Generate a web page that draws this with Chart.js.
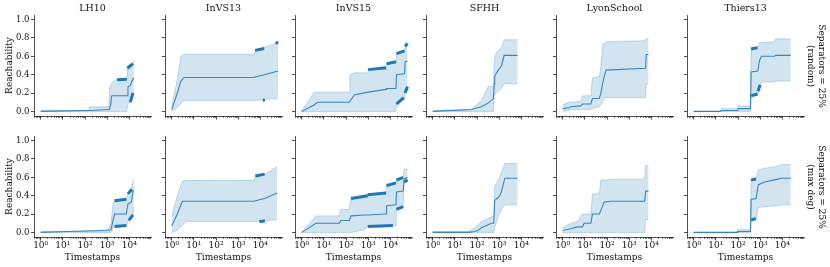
<!DOCTYPE html>
<html>
<head>
<meta charset="utf-8">
<script src="https://cdn.jsdelivr.net/npm/chart.js@4.4.1/dist/chart.umd.min.js"></script>
<style>
    html, body { margin: 0; padding: 0; background: #fff; overflow: hidden; }
    #page { position: relative; width: 830px; height: 267px; overflow: hidden; }
    .panel { position: absolute; }
    .rowlabel {
        position: absolute; width: 120px; white-space: nowrap;
        font-family: 'DejaVu Serif', serif; font-size: 9px; line-height: 11px;
        text-align: center; color: #111;
        transform: translate(-50%, -50%) rotate(90deg);
    }
</style>
</head>
<body>
<div id="page"></div>
<script>
// ============================================
// DATA
// ============================================
const TITLES = ['LH10', 'InVS13', 'InVS15', 'SFHH', 'LyonSchool', 'Thiers13'];
const ROW_LABELS = [['Separators = 25%', '(random)'], ['Separators = 25%', '(max deg)']];
const Y_TICKS = [0, 0.2, 0.4, 0.6, 0.8, 1.0];
const X_DECADES = [1, 10, 100, 1000, 10000];
const SUPERSCRIPT = ['\u2070', '\u00b9', '\u00b2', '\u00b3', '\u2074', '\u2075'];

// --- Separators = 25% (random) ---
const lh10RndT   = [1, 150, 158, 1200, 1260, 1450, 1600, 2600, 2800, 7800, 8200, 8700, 11000, 13500, 14600, 16000];
const lh10RndLo  = [0, 0, 0, 0, 0, 0, 0, 0, 0, 0, 0.06, 0.08, 0.1, 0.17, 0.19, 0.2];
const lh10RndMed = [0, 0.01, 0.01, 0.02, 0.02, 0.08, 0.17, 0.17, 0.17, 0.17, 0.17, 0.27, 0.28, 0.34, 0.36, 0.36];
const lh10RndHi  = [0.01, 0.01, 0.05, 0.05, 0.24, 0.29, 0.31, 0.35, 0.35, 0.35, 0.46, 0.48, 0.5, 0.51, 0.55, 0.55];
const lh10RndDark = [[2800, 7800, 0.345, 0.35], [8200, 14600, 0.47, 0.52], [11000, 14600, 0.1, 0.2]];

const invs13RndT   = [1, 1.8, 2.6, 3.6, 5500, 5800, 15700, 63000];
const invs13RndLo  = [0, 0.04, 0.09, 0.12, 0.12, 0.12, 0.13, 0.14];
const invs13RndMed = [0.02, 0.2, 0.33, 0.37, 0.37, 0.375, 0.4, 0.44];
const invs13RndHi  = [0.05, 0.35, 0.6, 0.62, 0.62, 0.66, 0.7, 0.75];
const invs13RndDark = [[5800, 15000, 0.665, 0.685], [13000, 16000, 0.12, 0.125], [50000, 63000, 0.74, 0.755]];

const invs15RndT   = [1, 3.6, 5.2, 140, 150, 240, 960, 1000, 6400, 6800, 18000, 19000, 44000, 46000, 60000];
const invs15RndLo  = [0, 0, 0, 0, 0, 0, 0, 0, 0, 0, 0, 0.1, 0.13, 0.22, 0.27];
const invs15RndMed = [0, 0.07, 0.1, 0.1, 0.1, 0.18, 0.21, 0.21, 0.24, 0.25, 0.25, 0.4, 0.41, 0.54, 0.55];
const invs15RndHi  = [0, 0.21, 0.21, 0.21, 0.4, 0.42, 0.42, 0.46, 0.46, 0.53, 0.53, 0.64, 0.66, 0.72, 0.74];
const invs15RndDark = [[1000, 6400, 0.455, 0.475], [6800, 18000, 0.52, 0.54], [19000, 44000, 0.63, 0.66],
                       [46000, 60000, 0.71, 0.74], [19000, 40000, 0.08, 0.15], [46000, 60000, 0.2, 0.27]];

const sfhhRndT   = [1, 55, 158, 316, 550, 600, 630, 760, 1280, 1680, 6800];
const sfhhRndLo  = [0, 0, 0, 0, 0, 0.18, 0.2, 0.2, 0.25, 0.3, 0.3];
const sfhhRndMed = [0, 0.02, 0.05, 0.09, 0.14, 0.3, 0.38, 0.42, 0.5, 0.61, 0.61];
const sfhhRndHi  = [0.01, 0.02, 0.12, 0.27, 0.27, 0.55, 0.6, 0.64, 0.7, 0.78, 0.78];
const sfhhRndDark = [];

const lyonRndT   = [1, 1.94, 2.3, 6.6, 7.8, 18.7, 22, 45, 53, 63, 75, 90, 5500, 5900, 7500];
const lyonRndLo  = [0, 0.01, 0.02, 0.02, 0.02, 0.02, 0.03, 0.05, 0.07, 0.1, 0.15, 0.15, 0.15, 0.3, 0.3];
const lyonRndMed = [0.03, 0.04, 0.05, 0.06, 0.08, 0.08, 0.14, 0.14, 0.2, 0.3, 0.38, 0.45, 0.47, 0.62, 0.62];
const lyonRndHi  = [0.07, 0.1, 0.1, 0.11, 0.17, 0.17, 0.36, 0.38, 0.5, 0.72, 0.74, 0.76, 0.77, 0.79, 0.79];
const lyonRndDark = [];

const thiersRndT   = [1, 16, 18, 96, 100, 365, 390, 780, 930, 1120, 4460, 5000, 24000];
const thiersRndLo  = [0, 0, 0, 0, 0, 0, 0.17, 0.18, 0.28, 0.32, 0.32, 0.33, 0.33];
const thiersRndMed = [0, 0, 0.01, 0.01, 0.03, 0.03, 0.43, 0.44, 0.55, 0.6, 0.6, 0.61, 0.61];
const thiersRndHi  = [0, 0, 0.03, 0.03, 0.06, 0.06, 0.69, 0.7, 0.75, 0.75, 0.76, 0.79, 0.79];
const thiersRndDark = [[390, 760, 0.68, 0.695], [390, 760, 0.17, 0.19], [800, 1000, 0.22, 0.29]];

// --- Separators = 25% (max deg) ---
const lh10MaxT   = [1, 16, 1070, 1500, 1800, 2150, 7300, 8700, 12300, 14600, 16000];
const lh10MaxLo  = [0, 0, 0, 0, 0.03, 0.06, 0.07, 0.12, 0.15, 0.2, 0.27];
const lh10MaxMed = [0, 0.01, 0.02, 0.03, 0.12, 0.2, 0.2, 0.31, 0.33, 0.44, 0.46];
const lh10MaxHi  = [0.01, 0.01, 0.03, 0.1, 0.3, 0.35, 0.35, 0.43, 0.47, 0.55, 0.58];
const lh10MaxDark = [[2150, 7300, 0.345, 0.36], [2150, 7300, 0.065, 0.075], [8700, 13000, 0.42, 0.47], [9500, 14600, 0.13, 0.19]];

const invs13MaxT   = [1, 1.8, 3.05, 4.6, 5500, 6000, 15700, 57000];
const invs13MaxLo  = [0, 0.02, 0.08, 0.12, 0.12, 0.12, 0.125, 0.14];
const invs13MaxMed = [0.07, 0.2, 0.34, 0.34, 0.34, 0.345, 0.37, 0.43];
const invs13MaxHi  = [0.17, 0.4, 0.56, 0.565, 0.57, 0.61, 0.63, 0.72];
const invs13MaxDark = [[6000, 15700, 0.615, 0.635], [9000, 16000, 0.12, 0.125]];

const invs15MaxT   = [1, 4.4, 50, 58, 140, 170, 700, 960, 6400, 6800, 18000, 19000, 38000, 42000, 60000];
const invs15MaxLo  = [0, 0, 0, 0, 0, 0, 0.03, 0.07, 0.07, 0.07, 0.07, 0.27, 0.27, 0.56, 0.56];
const invs15MaxMed = [0, 0.1, 0.1, 0.13, 0.13, 0.18, 0.19, 0.19, 0.2, 0.29, 0.3, 0.44, 0.45, 0.58, 0.6];
const invs15MaxHi  = [0, 0.18, 0.18, 0.25, 0.25, 0.38, 0.4, 0.42, 0.42, 0.53, 0.53, 0.58, 0.6, 0.69, 0.69];
const invs15MaxDark = [[170, 960, 0.37, 0.4], [960, 6400, 0.41, 0.43], [6800, 18000, 0.51, 0.54], [19000, 38000, 0.57, 0.6],
                       [960, 13000, 0.065, 0.075], [19000, 38000, 0.25, 0.28], [42000, 60000, 0.55, 0.57]];

const sfhhMaxT   = [1, 39, 78, 110, 158, 450, 570, 630, 900, 1070, 1280, 1800, 6800];
const sfhhMaxLo  = [0, 0, 0, 0, 0, 0, 0, 0.05, 0.18, 0.2, 0.25, 0.3, 0.3];
const sfhhMaxMed = [0, 0, 0.01, 0.02, 0.05, 0.1, 0.1, 0.35, 0.38, 0.4, 0.45, 0.59, 0.59];
const sfhhMaxHi  = [0.01, 0.01, 0.05, 0.08, 0.12, 0.17, 0.17, 0.5, 0.57, 0.6, 0.66, 0.75, 0.75];
const sfhhMaxDark = [];

const lyonMaxT   = [1, 2.3, 4.6, 7.8, 9.3, 18.7, 22, 45, 53, 75, 150, 5000, 5500, 7500];
const lyonMaxLo  = [0, 0, 0, 0, 0, 0, 0, 0, 0, 0, 0, 0, 0.14, 0.14];
const lyonMaxMed = [0.02, 0.04, 0.06, 0.06, 0.1, 0.1, 0.2, 0.2, 0.24, 0.33, 0.34, 0.34, 0.45, 0.45];
const lyonMaxHi  = [0.05, 0.1, 0.12, 0.2, 0.2, 0.2, 0.42, 0.42, 0.57, 0.57, 0.58, 0.58, 0.73, 0.73];
const lyonMaxDark = [];

const thiersMaxT   = [1, 92, 96, 365, 390, 650, 830, 1600, 6300, 8900, 24000];
const thiersMaxLo  = [0, 0, 0, 0, 0.14, 0.15, 0.27, 0.28, 0.29, 0.3, 0.3];
const thiersMaxMed = [0, 0, 0.01, 0.01, 0.36, 0.37, 0.52, 0.55, 0.58, 0.59, 0.59];
const thiersMaxHi  = [0, 0, 0.03, 0.03, 0.57, 0.58, 0.68, 0.7, 0.72, 0.74, 0.74];
const thiersMaxDark = [[390, 650, 0.57, 0.585], [390, 650, 0.135, 0.15]];

const PANELS = [
    [
        { t: lh10RndT, lo: lh10RndLo, med: lh10RndMed, hi: lh10RndHi, dark: lh10RndDark },
        { t: invs13RndT, lo: invs13RndLo, med: invs13RndMed, hi: invs13RndHi, dark: invs13RndDark },
        { t: invs15RndT, lo: invs15RndLo, med: invs15RndMed, hi: invs15RndHi, dark: invs15RndDark },
        { t: sfhhRndT, lo: sfhhRndLo, med: sfhhRndMed, hi: sfhhRndHi, dark: sfhhRndDark },
        { t: lyonRndT, lo: lyonRndLo, med: lyonRndMed, hi: lyonRndHi, dark: lyonRndDark },
        { t: thiersRndT, lo: thiersRndLo, med: thiersRndMed, hi: thiersRndHi, dark: thiersRndDark }
    ],
    [
        { t: lh10MaxT, lo: lh10MaxLo, med: lh10MaxMed, hi: lh10MaxHi, dark: lh10MaxDark },
        { t: invs13MaxT, lo: invs13MaxLo, med: invs13MaxMed, hi: invs13MaxHi, dark: invs13MaxDark },
        { t: invs15MaxT, lo: invs15MaxLo, med: invs15MaxMed, hi: invs15MaxHi, dark: invs15MaxDark },
        { t: sfhhMaxT, lo: sfhhMaxLo, med: sfhhMaxMed, hi: sfhhMaxHi, dark: sfhhMaxDark },
        { t: lyonMaxT, lo: lyonMaxLo, med: lyonMaxMed, hi: lyonMaxHi, dark: lyonMaxDark },
        { t: thiersMaxT, lo: thiersMaxLo, med: thiersMaxMed, hi: thiersMaxHi, dark: thiersMaxDark }
    ]
];

// ============================================
// LAYOUT / STYLE
// ============================================
const LAYOUT = {
    colLeft: [34, 165, 295, 426, 556, 687],
    rowTop: [15, 136],
    plotW: 117,
    plotH: 101,
    padL: 34, padT: 15, padR: 9, padB: 32
};
const BLUE = '#1f77b4';
const MEDIAN = 'rgba(31, 119, 180, 0.85)';
const EDGE = 'rgba(31, 119, 180, 0.3)';
const BAND = 'rgba(31, 119, 180, 0.2)';
const AXIS = '#222';
const FONT = "'DejaVu Serif', serif";

// minor ticks of the log axis + panel title
const panelDecor = {
    id: 'panelDecor',
    afterDraw(chart) {
        const { ctx, chartArea } = chart;
        const sc = chart.scales.x;
        const y0 = chartArea.bottom;
        ctx.save();
        ctx.strokeStyle = AXIS;
        ctx.lineWidth = 0.6;
        for (let e = -1; e <= 5; e++) {
            for (let m = 2; m <= 9; m++) {
                const v = m * Math.pow(10, e);
                if (v < sc.min || v > sc.max) continue;
                const px = Math.round(sc.getPixelForValue(v)) + 0.5;
                ctx.beginPath();
                ctx.moveTo(px, y0);
                ctx.lineTo(px, y0 + 2);
                ctx.stroke();
            }
        }
        const title = chart.options.plugins.panelDecor.title;
        if (title) {
            ctx.fillStyle = '#111';
            ctx.font = '9.5px ' + FONT;
            ctx.textAlign = 'center';
            ctx.textBaseline = 'middle';
            ctx.fillText(title, (chartArea.left + chartArea.right) / 2, chartArea.top - 6.5);
        }
        ctx.restore();
    }
};

function points(xs, ys) {
    return xs.map((x, i) => ({ x: x, y: ys[i] }));
}

function crearPanel(row, col) {
    const p = PANELS[row][col];
    const L = LAYOUT;
    const wrap = document.createElement('div');
    wrap.className = 'panel';
    const w = L.padL + L.plotW + L.padR;
    const h = L.padT + L.plotH + L.padB;
    wrap.style.left = (L.colLeft[col] - L.padL) + 'px';
    wrap.style.top = (L.rowTop[row] - L.padT) + 'px';
    const canvas = document.createElement('canvas');
    canvas.width = w;
    canvas.height = h;
    canvas.style.width = w + 'px';
    canvas.style.height = h + 'px';
    wrap.appendChild(canvas);
    document.getElementById('page').appendChild(wrap);

    // first dataset is drawn last (on top)
    const datasets = [{
        data: points(p.t, p.med), borderColor: MEDIAN, borderWidth: 1.1, pointRadius: 0, fill: false
    }];
    p.dark.forEach(d => {
        datasets.push({
            data: points([d[0], d[1]], [d[2], d[3]]), borderColor: BLUE, borderWidth: 3, pointRadius: 0, fill: false
        });
    });
    datasets.push({ data: points(p.t, p.lo), borderColor: EDGE, borderWidth: 0.8, pointRadius: 0, fill: false });
    datasets.push({ data: points(p.t, p.hi), borderColor: EDGE, borderWidth: 0.8, pointRadius: 0, fill: '-1', backgroundColor: BAND });

    const bottomRow = row === 1;
    const firstCol = col === 0;

    new Chart(canvas.getContext('2d'), {
        type: 'line',
        data: { datasets },
        options: {
            responsive: false,
            animation: false,
            events: [],
            devicePixelRatio: 1,
            layout: { padding: { left: 0, top: L.padT, right: L.padR, bottom: 0 } },
            elements: { line: { tension: 0 } },
            plugins: {
                legend: { display: false },
                tooltip: { enabled: false },
                panelDecor: { title: row === 0 ? TITLES[col] : null }
            },
            scales: {
                x: {
                    type: 'logarithmic',
                    min: 0.5,
                    max: 95000,
                    afterBuildTicks: s => { s.ticks = X_DECADES.map(v => ({ value: v, major: true })); },
                    afterFit: s => { s.height = L.padB; },
                    grid: { drawOnChartArea: false, drawTicks: true, tickLength: 3.5, color: AXIS, lineWidth: 0.8 },
                    border: { display: true, color: AXIS, width: 0.8 },
                    ticks: {
                        display: bottomRow,
                        autoSkip: false,
                        maxRotation: 0,
                        padding: 0,
                        color: '#111',
                        font: { family: FONT, size: 9 },
                        callback: v => '10' + SUPERSCRIPT[Math.round(Math.log10(v))]
                    },
                    title: {
                        display: bottomRow,
                        text: 'Timestamps',
                        color: '#111',
                        font: { family: FONT, size: 9 },
                        padding: { top: 0, bottom: 6 }
                    }
                },
                y: {
                    min: -0.05,
                    max: 1.05,
                    afterBuildTicks: s => { s.ticks = Y_TICKS.map(v => ({ value: v })); },
                    afterFit: s => { s.width = L.padL; },
                    grid: { drawOnChartArea: false, drawTicks: true, tickLength: 3, color: AXIS, lineWidth: 0.8 },
                    border: { display: true, color: AXIS, width: 0.8 },
                    ticks: {
                        display: firstCol,
                        padding: 1.5,
                        color: '#111',
                        font: { family: FONT, size: 8.5 },
                        callback: v => v.toFixed(1)
                    },
                    title: {
                        display: firstCol,
                        text: 'Reachability',
                        color: '#111',
                        font: { family: FONT, size: 9 },
                        padding: { top: 4.5, bottom: 0 }
                    }
                }
            }
        },
        plugins: [panelDecor]
    });
}

function crearEtiquetas() {
    const centers = [LAYOUT.rowTop[0] + LAYOUT.plotH / 2, LAYOUT.rowTop[1] + LAYOUT.plotH / 2];
    ROW_LABELS.forEach((lines, r) => {
        const div = document.createElement('div');
        div.className = 'rowlabel';
        div.style.left = '816px';
        div.style.top = centers[r] + 'px';
        div.innerHTML = lines.join('<br>');
        document.getElementById('page').appendChild(div);
    });
}

for (let r = 0; r < 2; r++) {
    for (let c = 0; c < 6; c++) crearPanel(r, c);
}
crearEtiquetas();
</script>
</body>
</html>
